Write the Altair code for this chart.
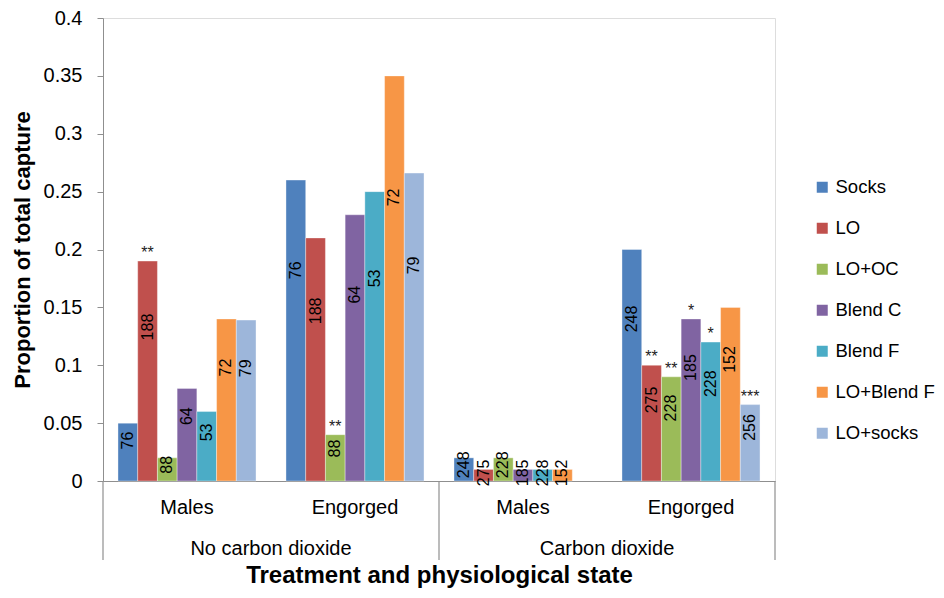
import altair as alt
import pandas as pd

series = ["Socks", "LO", "LO+OC", "Blend C", "Blend F", "LO+Blend F", "LO+socks"]
colors = ["#4F81BD", "#C0504D", "#9BBB59", "#8064A2", "#4BACC6", "#F79646", "#9DB6DA"]
treatments = ["No carbon dioxide", "No carbon dioxide", "Carbon dioxide", "Carbon dioxide"]
states = ["Males", "Engorged", "Males", "Engorged"]

values = [
    [0.05, 0.19, 0.02, 0.08, 0.06, 0.14, 0.139],
    [0.26, 0.21, 0.04, 0.23, 0.25, 0.35, 0.266],
    [0.02, 0.01, 0.02, 0.01, 0.01, 0.01, None],
    [0.20, 0.10, 0.09, 0.14, 0.12, 0.15, 0.066],
]
counts = [
    ["76", "188", "88", "64", "53", "72", "79"],
    ["76", "188", "88", "64", "53", "72", "79"],
    ["248", "275", "228", "185", "228", "152", ""],
    ["248", "275", "228", "185", "228", "152", "256"],
]
stars = [
    ["", "**", "", "", "", "", ""],
    ["", "", "**", "", "", "", ""],
    ["", "", "", "", "", "", ""],
    ["", "**", "**", "*", "*", "", "***"],
]
y_ticks = [0, 0.05, 0.1, 0.15, 0.2, 0.25, 0.3, 0.35, 0.4]

keys = [t + "|" + s for t, s in zip(treatments, states)]
rows = []
for gi, key in enumerate(keys):
    for si, name in enumerate(series):
        v = values[gi][si]
        if v is None:
            continue
        rows.append({"key": key, "series": name, "value": v,
                     "count": counts[gi][si], "star": stars[gi][si]})
df = pd.DataFrame(rows)

FONT = "Liberation Sans"
GRAY = "#8f8f8f"

x_enc = alt.X("key:N", sort=keys, scale=alt.Scale(paddingInner=0, paddingOuter=0),
              axis=alt.Axis(labelExpr="split(datum.label, '|')[1]", labelAngle=0,
                            ticks=False, tickSize=0, labelPadding=16, labelFontSize=20,
                            labelFont=FONT, labelColor="black", domainColor=GRAY,
                            title="Treatment and physiological state", titleFont=FONT,
                            titleFontSize=24, titleFontWeight="bold", titlePadding=46,
                            titleColor="black"))
xo_enc = alt.XOffset("series:N", sort=series,
                     scale=alt.Scale(paddingInner=0, paddingOuter=0.76))
y_scale = alt.Scale(domain=[0, 0.4], nice=False)

base = alt.Chart(df)

bars = base.mark_bar(stroke="white", strokeWidth=0.6, strokeOpacity=0.6).encode(
    x=x_enc,
    xOffset=xo_enc,
    y=alt.Y("value:Q", scale=y_scale,
            axis=alt.Axis(values=y_ticks, format="~g", grid=False, tickSize=6,
                          tickColor=GRAY, domainColor=GRAY, labelPadding=15,
                          labelFontSize=20, labelFont=FONT, labelColor="black",
                          title="Proportion of total capture", titleFont=FONT,
                          titleFontSize=22, titleFontWeight="bold", titlePadding=9,
                          titleColor="black")),
    color=alt.Color("series:N", sort=series,
                    scale=alt.Scale(domain=series, range=colors),
                    legend=alt.Legend(title=None, orient="none", legendX=710, legendY=160,
                                      symbolType="square", symbolSize=121,
                                      symbolStrokeWidth=0, labelFontSize=18.5,
                                      labelFont=FONT, labelColor="black",
                                      rowPadding=22, labelOffset=4, padding=0)),
)

labels = base.transform_filter("datum.count != ''").transform_calculate(
    label_y="datum.value * 0.7"
).mark_text(angle=270, align="center", baseline="middle", fontSize=16,
            font=FONT, color="black").encode(
    x=alt.X("key:N", sort=keys),
    xOffset=alt.XOffset("series:N", sort=series),
    y=alt.Y("label_y:Q", scale=y_scale),
    text="count:N",
)

star_marks = base.transform_filter("datum.star != ''").mark_text(
    baseline="bottom", align="center", dy=0, fontSize=16,
    font=FONT, color="#222222").encode(
    x=alt.X("key:N", sort=keys),
    xOffset=alt.XOffset("series:N", sort=series),
    y=alt.Y("value:Q", scale=y_scale),
    text="star:N",
)

sep_left = pd.DataFrame({"key": [keys[0], keys[2]]})
sep_right = pd.DataFrame({"key": [keys[3]]})
rule_left = alt.Chart(sep_left).mark_rule(color=GRAY, strokeWidth=1.2).encode(
    x=alt.X("key:N", sort=keys, bandPosition=0),
    y=alt.value(463), y2=alt.value(542))
rule_right = alt.Chart(sep_right).mark_rule(color=GRAY, strokeWidth=1.2).encode(
    x=alt.X("key:N", sort=keys, bandPosition=1),
    y=alt.value(463), y2=alt.value(542))

treat_df = pd.DataFrame({"key": [keys[1], keys[3]], "label": [treatments[0], treatments[2]]})
treat_text = alt.Chart(treat_df).mark_text(fontSize=20, font=FONT, color="black",
                                           baseline="middle").encode(
    x=alt.X("key:N", sort=keys, bandPosition=0),
    y=alt.value(531),
    text="label:N",
)

chart = alt.layer(bars, labels, star_marks, rule_left, rule_right, treat_text).properties(
    width=672, height=463,
    autosize=alt.AutoSizeParams(type="none"),
    padding={"left": 95, "top": 10, "right": 161, "bottom": 109},
).configure_view(stroke=None).configure(background="white")

chart.save("out.html", embed_options={"renderer": "svg", "actions": False})
